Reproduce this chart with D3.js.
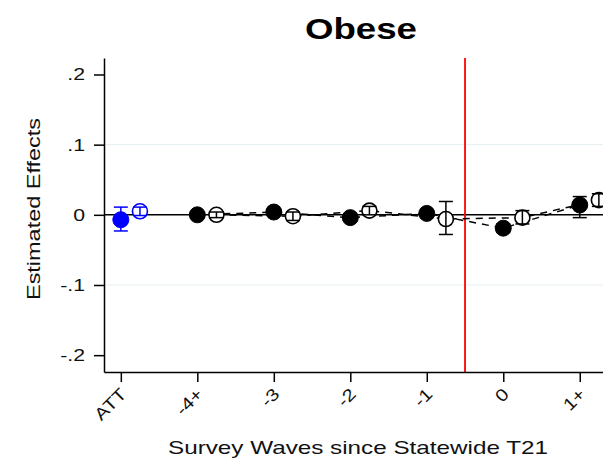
<!DOCTYPE html>
<html><head><meta charset="utf-8">
<script src="https://cdn.jsdelivr.net/npm/d3@7"></script>
<style>html,body{margin:0;padding:0;background:#fff;}svg{display:block;font-family:"Liberation Sans",Arial,sans-serif;}</style>
</head><body>
<svg id="c" width="603" height="468"></svg>
<script>
const categories = ["ATT","-4+","-3","-2","-1","0","1+"];
// filled markers (series 1)
const est1 = [-0.007, 0.000, 0.004, -0.004, 0.002, -0.019, 0.014];
const lo1  = [-0.023, -0.004, 0.000, -0.008, -0.002, -0.025, -0.004];
const hi1  = [0.011, 0.004, 0.008, 0.000, 0.006, -0.013, 0.026];
// hollow markers (series 2)
const est2 = [0.005, 0.000, -0.002, 0.006, -0.006, -0.004, 0.021];
const lo2  = [-0.001, -0.004, -0.008, 0.000, -0.028, -0.013, 0.012];
const hi2  = [0.011, 0.004, 0.004, 0.012, 0.019, 0.006, 0.030];
const yTicks = [-0.2, -0.1, 0, 0.1, 0.2];
const yTickLabels = ["-.2", "-.1", "0", ".1", ".2"];
const gridValues = [-0.1, 0.1];
const cutoff = 4.5;

const svg = d3.select("#c");
const x = d3.scaleLinear().domain([-0.22, 6.5]).range([104, 618]);
const y = d3.scaleLinear().domain([-0.224, 0.2235]).range([372, 58]);
const off = 0.25;

// grid
svg.selectAll(".grid").data(gridValues).join("line")
  .attr("x1", 104).attr("x2", 618)
  .attr("y1", d=>y(d)).attr("y2", d=>y(d))
  .attr("stroke", "#e6eff2").attr("stroke-width", 1);

// zero line
svg.append("line").attr("x1", 104).attr("x2", 618)
  .attr("y1", y(0)).attr("y2", y(0)).attr("stroke", "#000").attr("stroke-width", 1.5);

// red cutoff line
svg.append("line").attr("x1", x(cutoff)).attr("x2", x(cutoff))
  .attr("y1", 58).attr("y2", 372).attr("stroke", "#ff0000").attr("stroke-width", 1.8);

// axes
const yAxis = d3.axisLeft(y).tickValues(yTicks).tickFormat((d,i)=>yTickLabels[i])
  .tickSize(10).tickSizeOuter(0).tickPadding(8);
const gy = svg.append("g").attr("transform","translate(104,0)").call(yAxis);
gy.selectAll("path,line").attr("stroke","#000").attr("stroke-width",1.5);
gy.selectAll("text").attr("font-size",17).attr("fill","#111")
  .attr("font-family","'Liberation Sans',Arial,sans-serif")
  .each(function(){
    const w = this.getComputedTextLength()*1.25;
    d3.select(this).attr("text-anchor","start").attr("x", -19 - w)
      .attr("textLength", w).attr("lengthAdjust","spacingAndGlyphs");
  });

const xAxis = d3.axisBottom(x).tickValues(d3.range(categories.length))
  .tickFormat(i=>categories[i]).tickSize(10).tickSizeOuter(0);
const gx = svg.append("g").attr("transform","translate(0,372)").call(xAxis);
gx.selectAll("path,line").attr("stroke","#000").attr("stroke-width",1.5);
gx.selectAll("text").attr("font-size",17).attr("fill","#111")
  .attr("font-family","'Liberation Sans',Arial,sans-serif")
  .attr("y",0).attr("dy","0.35em")
  .each(function(){
    const w = this.getComputedTextLength()*1.2;
    d3.select(this).attr("text-anchor","start").attr("x", -w)
      .attr("textLength", w).attr("lengthAdjust","spacingAndGlyphs")
      .attr("transform","translate(2,19) rotate(-45)");
  });

// dashed connecting lines (excluding ATT)
const idx = d3.range(1, categories.length);
const line1 = d3.line().x(i=>x(i)).y(i=>y(est1[i]));
const line2 = d3.line().x(i=>x(i+off)).y(i=>y(est2[i]));
svg.append("path").attr("d", line1(idx)).attr("fill","none").attr("stroke","#000")
  .attr("stroke-width",1.5).attr("stroke-dasharray","7,6");
svg.append("path").attr("d", line2(idx)).attr("fill","none").attr("stroke","#000")
  .attr("stroke-width",1.5).attr("stroke-dasharray","7,6");

const col = i => i===0 ? "#0000ff" : "#000";

// markers
svg.selectAll(".m1").data(d3.range(categories.length)).join("circle")
  .attr("cx", i=>x(i)).attr("cy", i=>y(est1[i])).attr("r", 8)
  .attr("fill", col).attr("stroke", col).attr("stroke-width",1);
svg.selectAll(".m2").data(d3.range(categories.length)).join("circle")
  .attr("cx", i=>x(i+off)).attr("cy", i=>y(est2[i])).attr("r", 7.5)
  .attr("fill", "#fff").attr("stroke", col).attr("stroke-width",1.6);

// error bars
function errbars(lo, hi, dx){
  const g = svg.append("g");
  d3.range(categories.length).forEach(i=>{
    const cx = x(i+dx), c = col(i);
    g.append("line").attr("x1",cx).attr("x2",cx).attr("y1",y(lo[i])).attr("y2",y(hi[i]))
      .attr("stroke",c).attr("stroke-width",1.5);
    [lo[i],hi[i]].forEach(v=>g.append("line").attr("x1",cx-7).attr("x2",cx+7)
      .attr("y1",y(v)).attr("y2",y(v)).attr("stroke",c).attr("stroke-width",1.5));
  });
}
errbars(lo1, hi1, 0);
errbars(lo2, hi2, off);

// titles
svg.append("text").attr("x", 361).attr("y", 39).attr("text-anchor","middle")
  .attr("font-size",29).attr("font-weight","bold").attr("fill","#000")
  .attr("textLength",112).attr("lengthAdjust","spacingAndGlyphs").text("Obese");
svg.append("text").attr("transform","translate(40,209) rotate(-90)").attr("text-anchor","middle")
  .attr("font-size",18).attr("fill","#111")
  .attr("textLength",182).attr("lengthAdjust","spacingAndGlyphs").text("Estimated Effects");
svg.append("text").attr("x", 358).attr("y", 454).attr("text-anchor","middle")
  .attr("font-size",19).attr("fill","#111")
  .attr("textLength",380).attr("lengthAdjust","spacingAndGlyphs").text("Survey Waves since Statewide T21");
</script>
</body></html>
